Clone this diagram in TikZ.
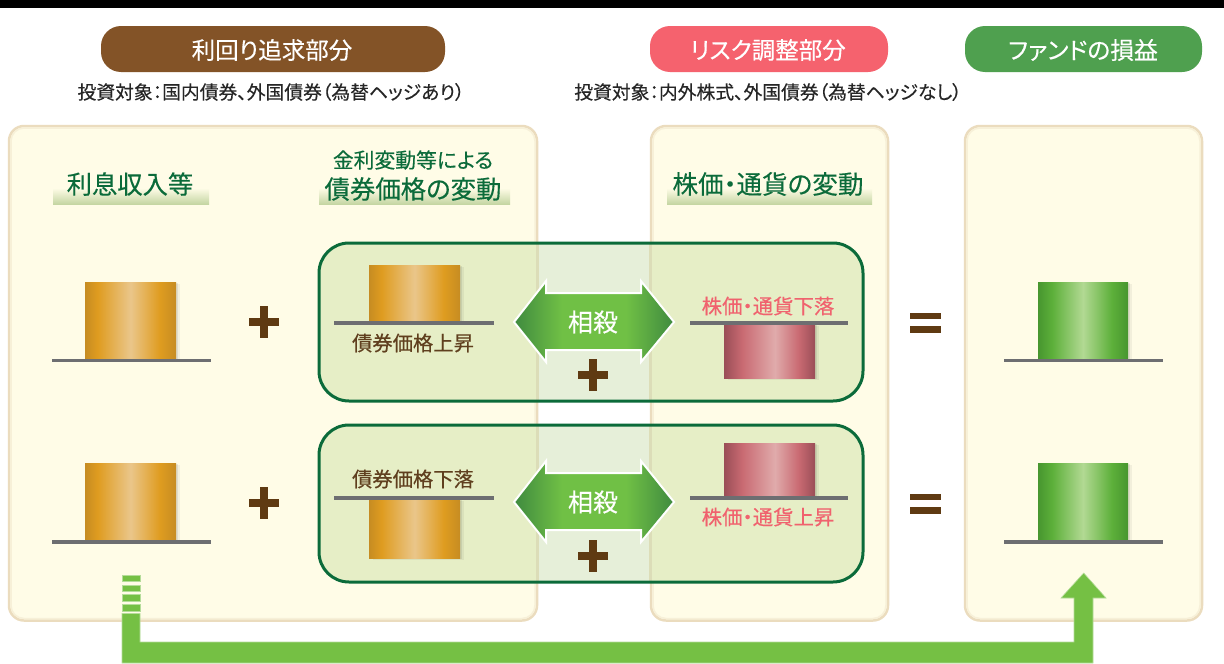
\documentclass[tikz,border=0pt]{standalone}
\usepackage{fontspec}
\setmainfont{Noto Sans CJK JP}[RawFeature={+palt},FakeBold=0.3]
\usetikzlibrary{shadows}
\definecolor{cardfill}{HTML}{FFFCE7}
\definecolor{cardedge}{HTML}{EBDCBE}
\definecolor{cardsoft}{HTML}{F7F0D8}
\definecolor{panelfill}{HTML}{E6EEC6}
\definecolor{panelgap}{HTML}{E6EFD9}
\definecolor{panelseam}{HTML}{DCDDB8}
\definecolor{darkgreen}{HTML}{0B6B3A}
\definecolor{brownpill}{HTML}{835327}
\definecolor{pinkpill}{HTML}{F5626E}
\definecolor{greenpill}{HTML}{4FA04F}
\definecolor{brownsym}{HTML}{5F3A12}
\definecolor{brownlabel}{HTML}{5F3F1E}
\definecolor{pinklabel}{HTML}{F0626E}
\definecolor{baseline}{HTML}{6D6E71}
\definecolor{flow}{HTML}{75C044}
\definecolor{flowedge}{HTML}{B5DC9A}
\definecolor{bandbot}{HTML}{C5D6A3}
\definecolor{gA}{HTML}{C68C22}\definecolor{gB}{HTML}{DF9C20}\definecolor{gC}{HTML}{EAC68A}
\definecolor{rA}{HTML}{9A4E57}\definecolor{rB}{HTML}{C96A72}\definecolor{rC}{HTML}{E0ABAB}
\definecolor{vA}{HTML}{47962F}\definecolor{vB}{HTML}{5DB03A}\definecolor{vC}{HTML}{B2D993}
\definecolor{aA}{HTML}{3F8A3F}\definecolor{aB}{HTML}{70C045}
\pgfdeclarehorizontalshading{goldbar}{100bp}{color(0bp)=(gA);color(25bp)=(gA);color(32bp)=(gB);color(50bp)=(gC);color(66bp)=(gB);color(75bp)=(gA);color(100bp)=(gA)}
\pgfdeclarehorizontalshading{redbar}{100bp}{color(0bp)=(rA);color(25bp)=(rA);color(35bp)=(rB);color(53bp)=(rC);color(66bp)=(rB);color(75bp)=(rA);color(100bp)=(rA)}
\pgfdeclarehorizontalshading{greenbar}{100bp}{color(0bp)=(vA);color(25bp)=(vA);color(33bp)=(vB);color(50bp)=(vC);color(66bp)=(vB);color(75bp)=(vA);color(100bp)=(vA)}
\pgfdeclarehorizontalshading{offset}{100bp}{color(0bp)=(aA);color(25bp)=(aA);color(40bp)=(aB);color(60bp)=(aB);color(75bp)=(aA);color(100bp)=(aA)}
\tikzset{
  x=1pt,y=-1pt,
  txt/.style={inner sep=0pt,outer sep=0pt},
  pill/.style={fill=#1,rounded corners=20pt},
  card/.style={fill=cardfill,draw=cardedge,line width=2.5pt,rounded corners=15pt},
  cardin/.style={draw=cardsoft,line width=1.5pt,rounded corners=13pt},
  panel/.style={rounded corners=30pt},
  band/.style={top color=cardfill,bottom color=bandbot},
  baseln/.style={draw=baseline,line width=3.3pt},
  softa/.style={drop shadow={shadow xshift=3.5pt,shadow yshift=-1.5pt,fill=black,opacity=.05}},
  softb/.style={drop shadow={shadow xshift=1.8pt,shadow yshift=-.8pt,fill=black,opacity=.08}},
  gold/.style={softa,softb,shading=goldbar},
  red/.style={softa,softb,shading=redbar},
  grn/.style={softa,softb,shading=greenbar},
  symb/.style={fill=brownsym},
  stripe/.style={fill=flow,draw=flowedge,line width=.6pt},
}
\newcommand{\plusmark}[2]{\fill[symb] (#1-15,#2-3.8) rectangle (#1+15,#2+3.8);\fill[symb] (#1-3.8,#2-16) rectangle (#1+3.8,#2+16);}
\newcommand{\equalmark}[2]{\fill[symb] (#1-15.5,#2-9.5) rectangle (#1+15.5,#2-3);\fill[symb] (#1-15.5,#2+4) rectangle (#1+15.5,#2+10.5);}
\newcommand{\offsetarrow}[1]{\path[shading=offset,draw=white,line width=2pt,line join=miter]
  (514,#1) -- (546,#1-41) -- (546,#1-29) -- (641,#1-29) -- (641,#1-41) -- (674,#1) -- (641,#1+40) -- (641,#1+28) -- (546,#1+28) -- (546,#1+40) -- cycle;}
\newcommand{\greenpanel}[2]{%
  \fill[panelfill,panel] (319,#1) rectangle (863,#2);
  \begin{scope}
    \clip[panel] (319,#1) rectangle (863,#2);
    \fill[panelgap] (538,#1) rectangle (650,#2);
    \draw[panelseam,line width=2.5pt] (537.5,#1) -- (537.5,#2);
    \draw[panelseam,line width=2.5pt] (650.5,#1) -- (650.5,#2);
  \end{scope}
  \draw[darkgreen,line width=3pt,panel] (319,#1) rectangle (863,#2);}
\newcommand{\cardbox}[2]{%
  \path[card] (#1,126) rectangle (#2,620.5);
  \path[cardin] (#1+2,128) rectangle (#2-2,618.5);}
\begin{document}
\begin{tikzpicture}
\useasboundingbox (0,0) rectangle (1224,664);
\fill[white] (0,0) rectangle (1224,664);
\fill[black] (0,0) rectangle (1224,8);
% header pills
\fill[pill=brownpill] (101,26) rectangle (445,72);
\fill[pill=pinkpill] (650,26) rectangle (888,72);
\fill[pill=greenpill] (965,26) rectangle (1202,72);
\node[txt,white,font=\fontsize{23.5}{24}\selectfont] (t1) at (272,50) {利回り追求部分};
\node[txt,white,font=\fontsize{23.5}{24}\selectfont] (t2) at (768,50) {リスク調整部分};
\node[txt,white,font=\fontsize{23.8}{24}\selectfont] (t3) at (1083,50) {ファンドの損益};
\node[txt,black!85,font=\fontsize{18.8}{19}\selectfont] (s1) at (271,92) {投資対象：国内債券、外国債券（為替ヘッジあり）};
\node[txt,black!85,font=\fontsize{18.8}{19}\selectfont] (s2) at (768,92) {投資対象：内外株式、外国債券（為替ヘッジなし）};
% cards
\cardbox{9}{537}
\cardbox{651}{888}
\cardbox{965}{1202}
% column headers
\path[band] (53,188) rectangle (209,204);
\path[band] (319,188) rectangle (510,204);
\path[band] (667,188) rectangle (872,204);
\node[txt,darkgreen,font=\fontsize{25.3}{26}\selectfont] (h1) at (130,184) {利息収入等};
\node[txt,darkgreen,font=\fontsize{20.8}{21}\selectfont] (h2) at (413,160) {金利変動等による};
\node[txt,darkgreen,font=\fontsize{25.4}{26}\selectfont] (h3) at (413,189) {債券価格の変動};
\node[txt,darkgreen,font=\fontsize{25.6}{26}\selectfont] (h4) at (768,184) {株価・通貨の変動};
% panels
\greenpanel{243}{401}
\greenpanel{425}{582}
% row 1
\path[gold] (85,282) rectangle (176,360);
\draw[baseln] (52,360.5) -- (211,360.5);
\plusmark{264}{322}
\path[gold] (369,265) rectangle (460,322);
\draw[baseln] (334,323) -- (494,323);
\node[txt,brownlabel,font=\fontsize{20.3}{21}\selectfont] (b1) at (413,343) {債券価格上昇};
\offsetarrow{322}
\node[txt,white,font=\fontsize{25}{25}\selectfont] (o1) at (593,322) {相殺};
\plusmark{593}{375}
\node[txt,pinklabel,font=\fontsize{20.4}{21}\selectfont] (r1) at (768,306) {株価・通貨下落};
\path[red] (724,324) rectangle (815,378);
\draw[baseln] (690,323) -- (848,323);
\equalmark{925}{322}
\path[grn] (1038,282) rectangle (1128,360);
\draw[baseln] (1004,360.5) -- (1163,360.5);
% row 2
\path[gold] (85,463) rectangle (176,541);
\draw[baseln] (52,542) -- (211,542);
\plusmark{264}{503}
\node[txt,brownlabel,font=\fontsize{20.3}{21}\selectfont] (b2) at (413,479) {債券価格下落};
\path[gold] (369,499) rectangle (460,558);
\draw[baseln] (334,498) -- (494,498);
\offsetarrow{502}
\node[txt,white,font=\fontsize{25}{25}\selectfont] (o2) at (593,502) {相殺};
\plusmark{593}{556}
\path[red] (724,443) rectangle (815,497);
\draw[baseln] (690,498) -- (848,498);
\node[txt,pinklabel,font=\fontsize{20.4}{21}\selectfont] (r2) at (768,517) {株価・通貨上昇};
\equalmark{925}{503}
\path[grn] (1038,463) rectangle (1128,541);
\draw[baseln] (1004,542) -- (1163,542);
% flow arrow
\path[stripe] (122,575.5) rectangle (140,581);
\path[stripe] (122,585) rectangle (140,591);
\path[stripe] (122,594.5) rectangle (140,601);
\path[stripe] (122,604) rectangle (140,611);
\path[stripe] (122,613.5) -- (140,613.5) -- (140,642) -- (1074,642) -- (1074,598) -- (1061,598) -- (1083.7,573) -- (1106,598) -- (1093,598) -- (1093,663) -- (122,663) -- cycle;
\end{tikzpicture}
\end{document}
